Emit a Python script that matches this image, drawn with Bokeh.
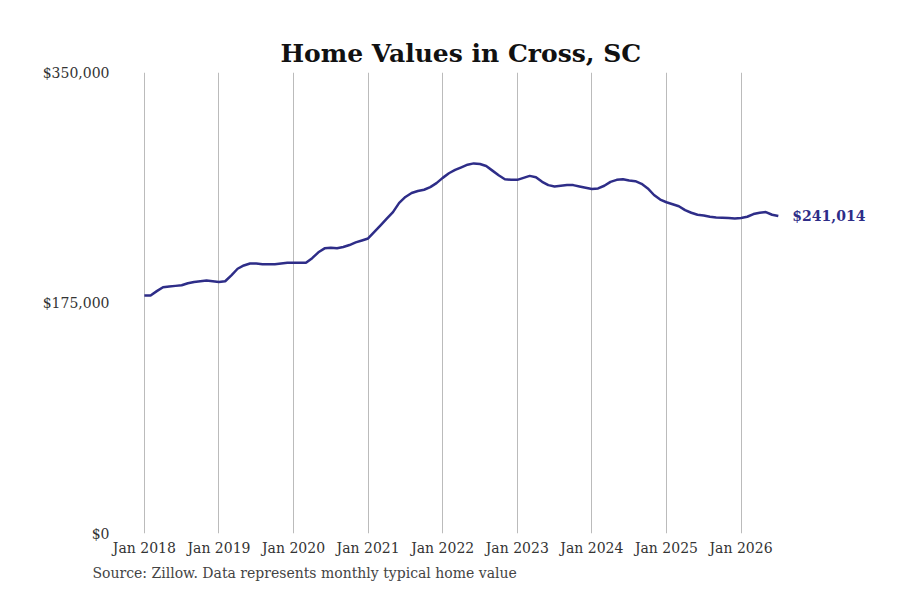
from bokeh.plotting import figure
from bokeh.models import Title, FixedTicker, NumeralTickFormatter
from bokeh.core.properties import value
from bokeh.embed import file_html
from bokeh.resources import INLINE

values = [
 180.7,180.7,184,187,187.5,188,188.5,190,191,191.5,192,191.5,
 191,191.5,196,201,203.5,205,205,204.5,204.5,204.5,205,205.5,
 205.5,205.5,205.5,209,213.5,216.5,217,216.5,217.5,219,221,222.5,
 224,229,234,239,244,251,255.5,258.5,260,261,263,266,
 270,273.5,276,278,280,281,280.5,279,275.5,272,269,268.5,
 268.5,270,271.5,270.5,267,264.5,263.5,264,264.5,264.5,263.5,262.5,
 261.5,262,264,267,268.5,269,268,267.5,265.5,262,257,253.5,
 251.5,250,248.5,245.5,243.5,242,241.5,240.5,240,239.8,239.5,239.2,
 239.6,240.5,242.5,243.5,244,242,241.014]
values = [v*1000 for v in values]
xs = [2018 + i/12 for i in range(len(values))]
years = list(range(2018, 2027))
year_labels = {y: f"Jan {y}" for y in years}
last_label = "$241,014"
color = "#2e2d88"
serif = "DejaVu Serif"

p = figure(width=884, height=584, output_backend="svg", toolbar_location=None,
           x_range=(2017.68, 2027.87), y_range=(0, 350000),
           min_border_left=120, min_border_right=4, min_border_top=72, min_border_bottom=50)
p.title.text = "Home Values in Cross, SC"
p.title.align = "left"
p.title.offset = 160
p.title.text_font = serif
p.title.text_font_size = "25px"
p.title.text_color = "#111111"
p.outline_line_color = None
p.line(xs, values, line_color=color, line_width=2.5)
p.text([xs[-1]], [values[-1]], text=[last_label], x_offset=14, text_baseline="middle",
       text_font=value(serif), text_font_style="bold", text_font_size="14px", text_color=color)

p.xaxis.ticker = FixedTicker(ticks=years)
p.xaxis.major_label_overrides = year_labels
p.xaxis.major_label_standoff = 0
p.yaxis.ticker = FixedTicker(ticks=[0, 175000, 350000])
p.yaxis.formatter = NumeralTickFormatter(format="$0,0")
for ax in (p.xaxis, p.yaxis):
    ax.axis_line_color = None
    ax.major_tick_line_color = None
    ax.minor_tick_line_color = None
    ax.major_label_text_font = serif
    ax.major_label_text_font_size = "14px"
    ax.major_label_text_color = "#333333"
p.xgrid.ticker = FixedTicker(ticks=years)
p.xgrid.grid_line_color = "#bbbbbb"
p.ygrid.grid_line_color = None
p.add_layout(Title(text="Source: Zillow. Data represents monthly typical home value",
                   text_font=serif, text_font_size="14px", text_font_style="normal",
                   align="left", offset=-28, standoff=8), "below")
open("out.html", "w").write(file_html(p, INLINE))
